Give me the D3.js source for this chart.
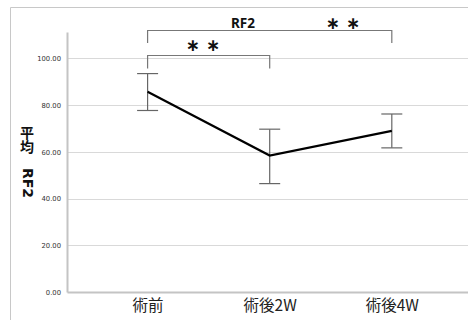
<!DOCTYPE html>
<html>
<head>
<meta charset="utf-8">
<script src="https://cdn.jsdelivr.net/npm/d3@7"></script>
<style>
  html, body { margin: 0; background: #fff; overflow: hidden; }
  svg { display: block; }
</style>
</head>
<body>
<div id="chart-container"></div>
<script>
// data
const categories = ["術前", "術後2W", "術後4W"];
const means = [85.7, 58.4, 69.0];
const upper = [93.5, 69.7, 76.2];
const lower = [77.7, 46.4, 61.7];
const yTicks = [0, 20, 40, 60, 80, 100];
const yTitleUpright = "平均";
const yTitleRotated = "RF2";
const chartTitle = "RF2";
// significance brackets: [from category, to category, label]
const brackets = [
  ["術前", "術後4W", "∗ ∗"],
  ["術前", "術後2W", "∗ ∗"]
];

const W = 468, H = 320;
const plot = {left: 67, right: 472.4, top: 32, bottom: 292};

const svg = d3.select("#chart-container")
  .append("svg")
    .attr("width", W)
    .attr("height", H);

// outer frame (left + top edges visible)
svg.append("path")
  .attr("d", `M10.5,${H} V7.5 H${W}`)
  .attr("fill", "none")
  .attr("stroke", "#c8c8c8")
  .attr("stroke-width", 1);

const x = d3.scalePoint()
  .domain(categories)
  .range([plot.left, plot.right])
  .padding(0.66);

const y = d3.scaleLinear()
  .domain([0, 111.3])
  .range([plot.bottom, plot.top]);

// gridlines
svg.append("g")
  .selectAll("line")
  .data(yTicks.filter(d => d > 0))
  .join("line")
    .attr("x1", plot.left)
    .attr("x2", W)
    .attr("y1", d => Math.round(y(d)) + 0.5)
    .attr("y2", d => Math.round(y(d)) + 0.5)
    .attr("stroke", "#d9d9d9")
    .attr("stroke-width", 1.2);

// y axis
const yAxis = svg.append("g")
  .attr("transform", `translate(${plot.left},0)`)
  .call(d3.axisLeft(y).tickValues(yTicks).tickFormat(d3.format(".2f")).tickSize(0).tickPadding(6));
yAxis.select(".domain").attr("stroke", "#c4c4c4").attr("stroke-width", 2);
yAxis.selectAll("text")
  .attr("font-family", "'DejaVu Sans', sans-serif")
  .attr("font-size", 6.8)
  .attr("fill", "#333");

// x axis
const xAxis = svg.append("g")
  .attr("transform", `translate(0,${plot.bottom})`)
  .call(d3.axisBottom(x).tickSize(0).tickPadding(8));
xAxis.select(".domain").attr("stroke", "#c4c4c4").attr("stroke-width", 2);
xAxis.selectAll("text")
  .attr("font-family", "'Noto Sans CJK JP', sans-serif")
  .attr("font-size", 15.5)
  .attr("fill", "#222");

// y title: upright CJK characters stacked, then the latin part turned clockwise
svg.append("text")
  .attr("x", 27)
  .attr("y", 140)
  .attr("text-anchor", "middle")
  .style("writing-mode", "vertical-rl")
  .style("text-orientation", "upright")
  .attr("font-family", "'Noto Sans CJK JP', sans-serif")
  .attr("font-weight", "bold")
  .attr("font-size", 14)
  .attr("fill", "#111")
  .text(yTitleUpright);
svg.append("text")
  .attr("transform", "translate(22.5,183) rotate(90)")
  .attr("text-anchor", "middle")
  .attr("font-family", "'DejaVu Sans', sans-serif")
  .attr("font-weight", "bold")
  .attr("font-size", 14)
  .attr("fill", "#111")
  .text(yTitleRotated);

// error bars
const eb = svg.append("g").attr("stroke", "#666").attr("stroke-width", 1.2);
categories.forEach((c, i) => {
  const cx = x(c);
  eb.append("line").attr("x1", cx).attr("x2", cx).attr("y1", y(upper[i])).attr("y2", y(lower[i]));
  eb.append("line").attr("x1", cx - 10.5).attr("x2", cx + 10.5).attr("y1", y(upper[i])).attr("y2", y(upper[i]));
  eb.append("line").attr("x1", cx - 10.5).attr("x2", cx + 10.5).attr("y1", y(lower[i])).attr("y2", y(lower[i]));
});

// mean line
const line = d3.line()
  .x((d, i) => x(categories[i]))
  .y(d => y(d));
svg.append("path")
  .datum(means)
  .attr("fill", "none")
  .attr("stroke", "#000")
  .attr("stroke-width", 2.2)
  .attr("d", line);

// brackets
const bracketY = [[30.5, 43], [55.5, 68.5]];
const starPos = [[343, 29], [203, 51]];
brackets.forEach((b, i) => {
  const [top, leg] = bracketY[i];
  svg.append("path")
    .attr("d", `M${x(b[0])},${leg} V${top} H${x(b[1])} V${leg}`)
    .attr("fill", "none")
    .attr("stroke", "#777")
    .attr("stroke-width", 1.2);
  svg.append("text")
    .attr("x", starPos[i][0])
    .attr("y", starPos[i][1])
    .attr("text-anchor", "middle")
    .attr("font-family", "'DejaVu Sans', sans-serif")
    .attr("font-weight", "bold")
    .attr("font-size", 17)
    .attr("fill", "#111")
    .text(b[2]);
});

// title
svg.append("text")
  .attr("x", 243)
  .attr("y", 28)
  .attr("text-anchor", "middle")
  .attr("font-family", "'Noto Sans', sans-serif")
  .attr("font-weight", "bold")
  .attr("font-size", 13.5)
  .attr("fill", "#111")
  .text(chartTitle);
</script>
</body>
</html>
